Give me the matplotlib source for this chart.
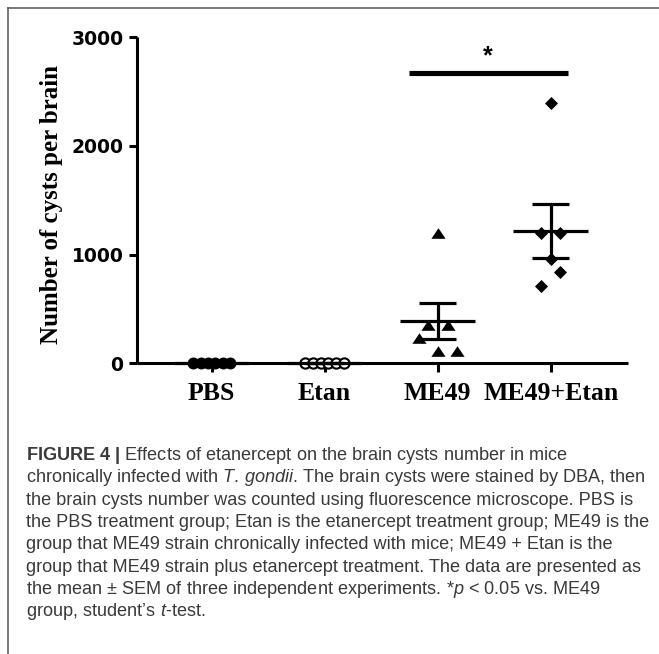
import matplotlib
matplotlib.use('Agg')
import matplotlib.pyplot as plt
import numpy as np
from matplotlib.lines import Line2D

# ---------------- data ----------------
categories = ['PBS', 'Etan', 'ME49', 'ME49+Etan']
pbs = [0, 0, 0, 0, 0, 0]
etan = [0, 0, 0, 0, 0, 0]
me49 = [1200, 350, 350, 230, 110, 110]
me49_etan = [2400, 1200, 1200, 960, 840, 715]
yticks = [0, 1000, 2000, 3000]
ylabel = 'Number of cysts per brain'
sig_y = 2670
sig_text = '*'

caption_lines = [
    r"$\mathbf{FIGURE}$ $\mathbf{4}$ $\mathbf{|}$ Effects of etanercept on the brain cysts number in mice",
    r"chronically infected with $\mathit{T.\,gondii}$. The brain cysts were stained by DBA, then",
    "the brain cysts number was counted using fluorescence microscope. PBS is",
    "the PBS treatment group; Etan is the etanercept treatment group; ME49 is the",
    "group that ME49 strain chronically infected with mice; ME49 + Etan is the",
    "group that ME49 strain plus etanercept treatment. The data are presented as",
    r"the mean ± SEM of three independent experiments. *$\mathit{p}$ < 0.05 vs. ME49",
    r"group, student’s $\mathit{t}$-test.",
]

# ---------------- style ----------------
plt.rcParams['mathtext.fontset'] = 'custom'
plt.rcParams['mathtext.rm'] = 'Liberation Sans'
plt.rcParams['mathtext.it'] = 'Liberation Sans:italic'
plt.rcParams['mathtext.bf'] = 'Liberation Sans:bold'

W, H = 659, 654
fig = plt.figure(figsize=(W / 100, H / 100), dpi=100)
fig.patch.set_facecolor('white')

ax_l, ax_r, ax_t, ax_b = 136.7, 628.0, 37.3, 363.3
ax = fig.add_axes([ax_l / W, 1 - ax_b / H, (ax_r - ax_l) / W, (ax_b - ax_t) / H])
ax.set_xlim(-0.662, 3.684)
ax.set_ylim(0, 3000)
for s in ['top', 'right']:
    ax.spines[s].set_visible(False)
for s in ['left', 'bottom']:
    ax.spines[s].set_linewidth(2.2)
    ax.spines[s].set_capstyle('butt')

px = 1 / 113.0  # data units per pixel in x
lw = 2.3

groups = [pbs, etan, me49, me49_etan]
offsets = [
    np.array([-18.5, -11, -3.7, 3.7, 11, 18.5]) * px,
    np.array([-19.5, -11.7, -3.9, 3.9, 11.7, 19.5]) * px,
    np.array([0, -10, 10, -19, 0, 19]) * px,
    np.array([0, -9.7, 9.3, 0, 9.3, -9.7]) * px,
]
tri = [(-1, -0.75), (1, -0.75), (0, 0.75)]
dia = [(0, 1), (1, 0), (0, -1), (-1, 0)]
mstyles = [
    dict(marker='o', ms=8.6, mfc='black', mec='black', mew=0),
    dict(marker='o', ms=7.4, mfc='white', mec='black', mew=1.5),
    dict(marker=tri, ms=10.2, mfc='black', mec='black', mew=0),
    dict(marker=dia, ms=9.4, mfc='black', mec='black', mew=0),
]

for i, (vals, off, st) in enumerate(zip(groups, offsets, mstyles)):
    v = np.asarray(vals, float)
    ax.plot(i + off, v, ls='none', clip_on=False, zorder=4, **st)
    m = v.mean()
    sem = v.std(ddof=1) / np.sqrt(len(v))
    ax.plot([i - 0.332, i + 0.332], [m, m], color='black', lw=lw, zorder=5,
            solid_capstyle='butt', clip_on=False)
    ax.plot([i, i], [m - sem, m + sem], color='black', lw=lw, zorder=5,
            solid_capstyle='butt', clip_on=False)
    for yy in (m - sem, m + sem):
        ax.plot([i - 0.166, i + 0.166], [yy, yy], color='black', lw=lw, zorder=5,
                solid_capstyle='butt', clip_on=False)

# significance bar
ax.plot([2 - 0.254, 3 + 0.15], [sig_y, sig_y], color='black', lw=3.7,
        solid_capstyle='butt', clip_on=False)
ax.text(2.44, 2760, sig_text, ha='center', va='baseline', fontsize=18,
        fontweight='bold', family='Liberation Sans', clip_on=False)

ax.set_xticks(range(len(categories)))
ax.set_xticklabels(categories, family='Liberation Serif', fontweight='bold', fontsize=18.5)
ax.set_yticks(yticks)
ax.set_yticklabels([str(t) for t in yticks], family='DejaVu Sans', fontweight='bold', fontsize=13.5)
ax.tick_params(axis='y', direction='out', length=6, width=2.2, pad=3.5)
ax.tick_params(axis='x', direction='out', length=6.5, width=2.2, pad=7)

fig.text(51.7 / W, 1 - 204 / H, ylabel, rotation=90, ha='center', va='center',
         family='Liberation Serif', fontweight='bold', fontsize=18)

# frame
fig.add_artist(Line2D([8 / W, 1.0], [1 - 8 / H, 1 - 8 / H], transform=fig.transFigure,
                      color='#555555', lw=1.1))
fig.add_artist(Line2D([8 / W, 8 / W], [1 - 8 / H, 0.0], transform=fig.transFigure,
                      color='#555555', lw=1.1))

# caption, fitted to measured line width
r = fig.canvas.get_renderer()
probe = fig.text(0, 0, caption_lines[3], fontsize=10, family='Liberation Sans')
wprobe = probe.get_window_extent(r).width
probe.remove()
cfs = 10 * (652 - 26) / wprobe
baselines = [460, 482.3, 504.6, 526.9, 549.2, 571.5, 593.8, 616.1]
for line, b in zip(caption_lines, baselines):
    fig.text(26 / W, 1 - b / H, line, fontsize=cfs, family='Liberation Sans',
             color='#3a3a3a', ha='left', va='baseline')

fig.savefig('out.png', dpi=100)
